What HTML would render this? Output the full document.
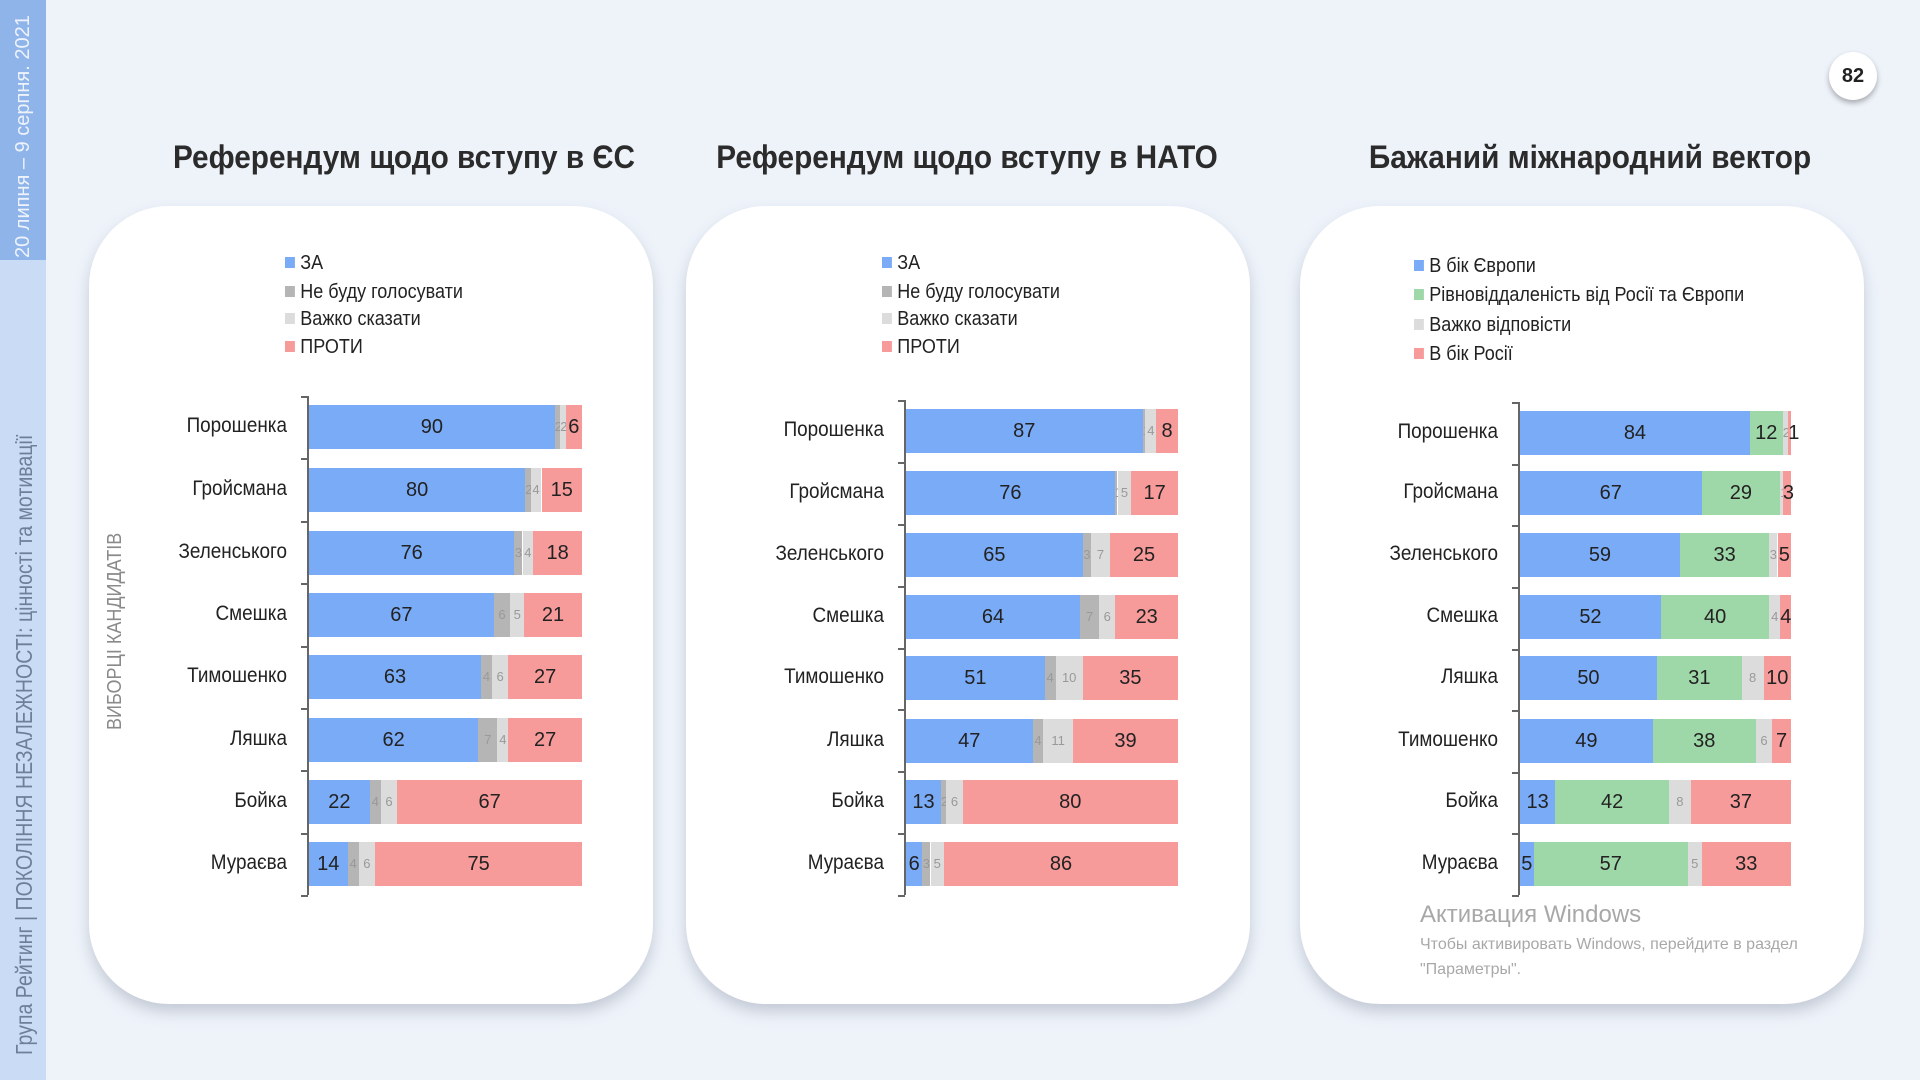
<!DOCTYPE html>
<html><head><meta charset="utf-8">
<style>
body{margin:0;width:1920px;height:1080px;background:#eef3fa;position:relative;overflow:hidden;font-family:"Liberation Sans",sans-serif;}
.abs{position:absolute;}
.side1{left:0;top:0;width:46px;height:260px;background:#8fb4ea;}
.side2{left:0;top:260px;width:46px;height:820px;background:#c9dbf5;}
.vt{position:absolute;transform:rotate(-90deg);transform-origin:left top;white-space:nowrap;}
.title{position:absolute;top:139px;font-weight:bold;font-size:32px;color:#2b2b2b;transform:translateX(-50%) scaleX(0.93);white-space:nowrap;}
.panel{position:absolute;top:206px;height:798px;width:564px;background:#fff;border-radius:80px;box-shadow:0 8px 14px rgba(120,130,150,0.35);}
.leg{position:absolute;font-size:20px;color:#222;white-space:nowrap;transform:scaleX(0.9);transform-origin:left center;}
.leg i{display:inline-block;width:11px;height:11px;margin-right:6px;vertical-align:1px;}
.lab{position:absolute;font-size:21px;color:#222;text-align:right;width:200px;transform:scaleX(0.9);transform-origin:right center;}
.seg{position:absolute;height:44px;text-align:center;line-height:44px;font-size:20px;color:#222;overflow:visible;white-space:nowrap;}
.sm{font-size:13px;color:#999;}
.axis{position:absolute;width:2px;background:#666;}
.tick{position:absolute;width:7px;height:2px;background:#666;}
</style></head><body>
<div class="abs side1"></div>
<div class="abs side2"></div>
<div class="vt" style="left:12px;top:258px;font-size:20px;color:#eef3fb;">20 липня – 9 серпня. 2021</div>
<div class="vt" style="left:11px;top:1055px;font-size:23px;color:#6e7f99;transform:rotate(-90deg) scaleX(0.85);">Група Рейтинг | ПОКОЛІННЯ НЕЗАЛЕЖНОСТІ: цінності та мотивації</div>

<div class="abs" style="left:1829px;top:52px;width:48px;height:48px;border-radius:50%;background:#fff;box-shadow:0 3px 6px rgba(0,0,0,0.3);text-align:center;line-height:48px;font-weight:bold;font-size:20px;color:#222;">82</div>

<div class="title" style="left:404px;">Референдум щодо вступу в ЄС</div>
<div class="title" style="left:967px;">Референдум щодо вступу в НАТО</div>
<div class="title" style="left:1590px;">Бажаний міжнародний вектор</div>

<div class="panel" style="left:89px;"></div>
<div class="panel" style="left:686px;"></div>
<div class="panel" style="left:1300px;"></div>

<div class="vt" style="left:104px;top:730px;font-size:20px;color:#8a8a8a;transform:rotate(-90deg) scaleX(0.9);">ВИБОРЦІ КАНДИДАТІВ</div>

<div class="abs" style="left:1420px;top:901px;font-size:24px;color:#a8a8a8;">Активация Windows</div>
<div class="abs" style="left:1420px;top:936px;font-size:16px;color:#a8a8a8;">Чтобы активировать Windows, перейдите в раздел</div>
<div class="abs" style="left:1420px;top:961px;font-size:16px;color:#a8a8a8;">"Параметры".</div>

<div id="c"></div>
<script>
var B='#7aabf6',G1='#b5b5b5',G2='#dcdcdc',R='#f69a9a',GR='#9fd8a8';
var charts=[
 {ax:309,w:273,rows:[427,490,553,615,677,740,802,864],lx:285,ly:[264,293,320,348],
  leg:[['ЗА',B],['Не буду голосувати',G1],['Важко сказати',G2],['ПРОТИ',R]],cols:[B,G1,G2,R],small:[1,2],
  names:['Порошенка','Гройсмана','Зеленського','Смешка','Тимошенко','Ляшка','Бойка','Мураєва'],
  data:[[90,2,2,6],[80,2,4,15],[76,3,4,18],[67,6,5,21],[63,4,6,27],[62,7,4,27],[22,4,6,67],[14,4,6,75]]},
 {ax:906,w:272,rows:[431,493,555,617,678,741,802,864],lx:882,ly:[264,293,320,348],
  leg:[['ЗА',B],['Не буду голосувати',G1],['Важко сказати',G2],['ПРОТИ',R]],cols:[B,G1,G2,R],small:[1,2],
  names:['Порошенка','Гройсмана','Зеленського','Смешка','Тимошенко','Ляшка','Бойка','Мураєва'],
  data:[[87,1,4,8],[76,1,5,17],[65,3,7,25],[64,7,6,23],[51,4,10,35],[47,4,11,39],[13,2,6,80],[6,3,5,86]]},
 {ax:1520,w:271,rows:[433,493,555,617,678,741,802,864],lx:1414,ly:[267,296,326,355],
  leg:[['В бік Європи',B],['Рівновіддаленість від Росії та Європи',GR],['Важко відповісти',G2],['В бік Росії',R]],cols:[B,GR,G2,R],small:[2],
  names:['Порошенка','Гройсмана','Зеленського','Смешка','Ляшка','Тимошенко','Бойка','Мураєва'],
  data:[[84,12,2,1],[67,29,1,3],[59,33,3,5],[52,40,4,4],[50,31,8,10],[49,38,6,7],[13,42,8,37],[5,57,5,33]]}
];
var h='';
charts.forEach(function(c){
 c.leg.forEach(function(l,i){h+='<div class="leg" style="left:'+c.lx+'px;top:'+(c.ly[i]-12)+'px"><i style="background:'+l[1]+'"></i>'+l[0]+'</div>';});
 var top=c.rows[0]-31,bot=c.rows[7]+31;
 h+='<div class="axis" style="left:'+(c.ax-2)+'px;top:'+top+'px;height:'+(bot-top)+'px"></div>';
 for(var k=0;k<=8;k++){var ty=top+(bot-top)*k/8;h+='<div class="tick" style="left:'+(c.ax-8)+'px;top:'+ty+'px"></div>';}
 c.data.forEach(function(d,r){
  var y=c.rows[r]-22,s=d[0]+d[1]+d[2]+d[3],x=c.ax;
  h+='<div class="lab" style="left:'+(c.ax-222)+'px;top:'+(c.rows[r]-13)+'px">'+c.names[r]+'</div>';
  d.forEach(function(v,i){
   var w=v/s*c.w;var sm=c.small.indexOf(i)>=0;
   h+='<div class="seg'+(sm?' sm':'')+'" style="left:'+x.toFixed(1)+'px;top:'+y+'px;width:'+w.toFixed(1)+'px;background:'+c.cols[i]+'">'+v+'</div>';
   x+=w;
  });
 });
});
document.getElementById('c').innerHTML=h;
</script>
</body></html>
